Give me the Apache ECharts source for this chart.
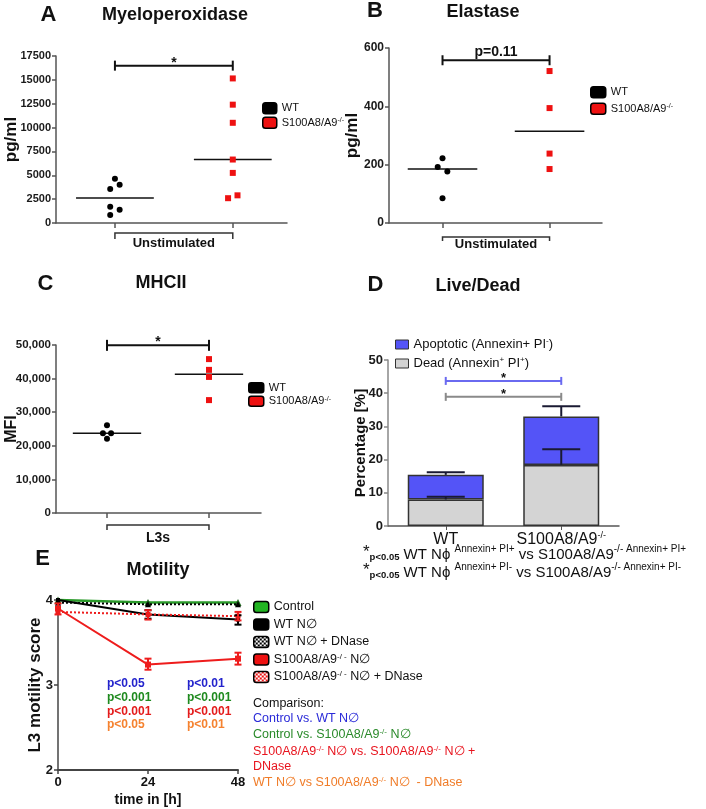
<!DOCTYPE html>
<html><head><meta charset="utf-8">
<script src="https://cdn.jsdelivr.net/npm/echarts@6/dist/echarts.min.js"></script>
<style>html,body{margin:0;padding:0;background:#fff}#c{width:706px;height:809px}</style>
</head><body><div id="c"></div>
<script>
// ---------------- DATA ----------------
const groupPos = [1, 3];               // WT, S100A8/A9-/- positions on the dot-plot axes
// A: Myeloperoxidase (pg/ml)
const mpoWTx = [1.0, 1.08, 0.92, 0.92, 1.08, 0.92];
const mpoWT  = [4650, 4000, 3550, 1700, 1400, 850];
const mpoKOx = [3.0, 3.0, 3.0, 3.0, 3.0, 2.92, 3.08];
const mpoKO  = [15150, 12400, 10500, 6650, 5250, 2600, 2900];
const mpoMedian = [2625, 6650];
// B: Elastase (pg/ml)
const elaWTx = [1.0, 0.91, 1.09, 1.0];
const elaWT  = [222, 192, 177, 85];
const elaKOx = [3.0, 3.0, 3.0, 3.0];
const elaKO  = [521, 394, 238, 185];
const elaMedian = [185, 315];
// C: MHCII (MFI)
const mhcWTx = [1.0, 0.92, 1.08, 1.0];
const mhcWT  = [26100, 23750, 23750, 22100];
const mhcKOx = [3.0, 3.0, 3.0, 3.0];
const mhcKO  = [45800, 42600, 40500, 33600];
const mhcMedian = [23750, 41300];
// D: Live/Dead (%)
const ldCategories = ['WT', 'S100A8/A9^(-/-)'];
const ldDead = [8.0, 18.4];
const ldApoptotic = [7.4, 14.6];
const ldDeadErrTop = [8.8, 23.1];
const ldTotalErrTop = [16.2, 36.1];
// E: Motility score
const motTime = [0, 24, 48];
const motControl = [4.0, 3.97, 3.97];
const motWT      = [4.0, 3.83, 3.77];
const motWTDnase = [3.97, 3.95, 3.95];
const motKO      = [3.90, 3.24, 3.31];
const motKODnase = [3.86, 3.83, 3.81];
const motWTErrLow  = [null, 3.78, 3.71];
const motWTErrHigh = [null, 3.88, 3.82];
const motKOErrLow  = [3.83, 3.18, 3.24];
const motKOErrHigh = [3.96, 3.31, 3.38];
const motKODnaseErrLow  = [null, 3.77, 3.76];
const motKODnaseErrHigh = [null, 3.88, 3.86];
const pCol1 = ['p<0.05', 'p<0.001', 'p<0.001', 'p<0.05'];
const pCol2 = ['p<0.01', 'p<0.001', 'p<0.001', 'p<0.01'];
const pColors = ['#2323cc', '#1f8a1f', '#e41b1b', '#f5822f'];

// ---------------- HELPERS ----------------
const FF = '"Liberation Sans", Arial, Helvetica, sans-serif';
function rich(str, t, s) {
  t = t || 't'; s = s || 's';
  return str.split(/\^\(([^)]*)\)/).map((p, i) => p === '' ? '' : (i % 2 ? '{' + s + '|' + p + '}' : '{' + t + '|' + p + '}')).join('');
}
const zip = (xs, ys) => xs.map((x, i) => [x, ys[i]]);

function groupXAxis(gi, max) {
  return { type: 'value', gridIndex: gi, min: 0, max: max,
    axisLine: { show: true, lineStyle: { color: '#555', width: 1.5 } },
    axisTick: { show: true, customValues: groupPos, length: 5, lineStyle: { color: '#555', width: 1.5 } },
    axisLabel: { show: false }, splitLine: { show: false } };
}
function valYAxis(gi, min, max, interval, name, nameGap, nameSize, labelSize, fmt, axisColor) {
  return { type: 'value', gridIndex: gi, min: min, max: max, interval: interval,
    name: name, nameLocation: 'middle', nameGap: nameGap, nameMoveOverlap: false,
    nameTextStyle: { fontSize: nameSize, fontWeight: 'bold', color: '#111', fontFamily: FF },
    axisLine: { show: true, lineStyle: { color: axisColor || '#555', width: 1.5 } },
    axisTick: { show: true, length: 4, lineStyle: { color: axisColor || '#555', width: 1.5 } },
    axisLabel: { fontSize: labelSize, fontWeight: 'bold', color: '#1a1a1a', margin: 5, fontFamily: FF, formatter: fmt || (v => String(v)) },
    splitLine: { show: false } };
}
function medianSeries(gi, medians, halfW) {
  return { type: 'custom', xAxisIndex: gi, yAxisIndex: gi, silent: true, z: 3,
    data: zip(groupPos, medians),
    renderItem: function (p, api) {
      const c = api.value(0), m = api.value(1);
      const a = api.coord([c - halfW, m]), b = api.coord([c + halfW, m]);
      return { type: 'line', shape: { x1: a[0], y1: a[1], x2: b[0], y2: b[1] }, style: { stroke: '#111', lineWidth: 1.5 } };
    } };
}
function sigBracket(gi, x1, x2, y, label, color, tick, font, labelDy) {
  return { type: 'custom', xAxisIndex: gi, yAxisIndex: gi, silent: true, clip: false, z: 6,
    encode: { x: [0, 1], y: 2 }, data: [[x1, x2, y]],
    renderItem: function (p, api) {
      const a = api.coord([api.value(0), api.value(2)]);
      const b = api.coord([api.value(1), api.value(2)]);
      return { type: 'group', children: [
        { type: 'line', shape: { x1: a[0], y1: a[1], x2: b[0], y2: b[1] }, style: { stroke: color, lineWidth: 2 } },
        { type: 'line', shape: { x1: a[0], y1: a[1] - tick, x2: a[0], y2: a[1] + tick }, style: { stroke: color, lineWidth: 2 } },
        { type: 'line', shape: { x1: b[0], y1: b[1] - tick, x2: b[0], y2: b[1] + tick }, style: { stroke: color, lineWidth: 2 } },
        { type: 'text', x: (a[0] + b[0]) / 2, y: a[1] + labelDy,
          style: { text: label, font: font, fill: '#111', align: 'center', verticalAlign: 'middle', textAlign: 'center', textVerticalAlign: 'middle' } }
      ] };
    } };
}
function axisBracket(gi, x1, x2, label, off, tick, textOff, font) {
  return { type: 'custom', xAxisIndex: gi, yAxisIndex: gi, silent: true, clip: false, z: 6,
    encode: { x: [0, 1], y: 2 }, data: [[x1, x2, 0]],
    renderItem: function (p, api) {
      const a = api.coord([api.value(0), 0]);
      const b = api.coord([api.value(1), 0]);
      const y0 = a[1] + off;
      return { type: 'group', children: [
        { type: 'polyline', shape: { points: [[a[0], y0 + tick], [a[0], y0], [b[0], y0], [b[0], y0 + tick]] }, style: { stroke: '#333', lineWidth: 1.5, fill: null } },
        { type: 'text', x: (a[0] + b[0]) / 2, y: a[1] + textOff,
          style: { text: label, font: font, fill: '#111', align: 'center', verticalAlign: 'middle', textAlign: 'center', textVerticalAlign: 'middle' } }
      ] };
    } };
}
function errSeries(gi, xs, lows, highs, color, capHalf, bothCaps, lw) {
  const data = [];
  xs.forEach((x, i) => { if (lows[i] != null) data.push([x, lows[i], highs[i]]); });
  return { type: 'custom', xAxisIndex: gi, yAxisIndex: gi, silent: true, clip: false, z: 8,
    encode: { x: 0, y: [1, 2] }, data: data,
    renderItem: function (p, api) {
      const lo = api.coord([api.value(0), api.value(1)]);
      const hi = api.coord([api.value(0), api.value(2)]);
      const st = { stroke: color, lineWidth: lw };
      const ch = [
        { type: 'line', shape: { x1: lo[0], y1: lo[1], x2: hi[0], y2: hi[1] }, style: st },
        { type: 'line', shape: { x1: hi[0] - capHalf, y1: hi[1], x2: hi[0] + capHalf, y2: hi[1] }, style: st }
      ];
      if (bothCaps) ch.push({ type: 'line', shape: { x1: lo[0] - capHalf, y1: lo[1], x2: lo[0] + capHalf, y2: lo[1] }, style: st });
      return { type: 'group', children: ch };
    } };
}
function checker(c1, c2) {
  const cv = document.createElement('canvas'); cv.width = 4; cv.height = 4;
  const g = cv.getContext('2d');
  g.fillStyle = c2; g.fillRect(0, 0, 4, 4);
  g.fillStyle = c1; g.fillRect(0, 0, 2, 2); g.fillRect(2, 2, 2, 2);
  return { image: cv, repeat: 'repeat' };
}
function txt(x, y, text, font, fill, align, richStyles) {
  return { type: 'text', x: x, y: y, silent: true,
    style: { text: text, font: font, fill: fill || '#111', align: align || 'center', verticalAlign: 'middle',
             textAlign: align || 'center', textVerticalAlign: 'middle', rich: richStyles } };
}

// ---------------- OPTION ----------------
const KO = 'S100A8/A9^(-/-)';
const dotLegendText = (size, supSize, lh) => ({ fontSize: size, lineHeight: lh, color: '#111', fontFamily: FF,
  rich: { t: { fontSize: size, lineHeight: lh, fontFamily: FF, color: '#111' },
          s: { fontSize: supSize, lineHeight: supSize + 1, verticalAlign: 'top', fontFamily: FF, color: '#111' } } });
function dotLegend(left, top, w, h, gap, size, lh) {
  return { left: left, top: top, padding: 0, orient: 'vertical', itemWidth: w, itemHeight: h, itemGap: gap, selectedMode: false,
    icon: 'roundRect', data: ['WT', KO], itemStyle: { borderColor: '#000', borderWidth: 1.5, opacity: 1 },
    textStyle: dotLegendText(size, 7, lh), formatter: n => rich(n) };
}
const WT_STYLE = { color: '#000', opacity: 1 };
const KO_STYLE = { color: '#ee1111', opacity: 1 };

const eNames = ['Control', 'WT N∅', 'WT N∅ + DNase', 'S100A8/A9^(-/ -) N∅', 'S100A8/A9^(-/ -) N∅ + DNase'];

const option = {
  animation: false,
  textStyle: { fontFamily: FF },
  grid: [
    { left: 56, top: 56, width: 231, height: 167, outerBoundsMode: 'none' },
    { left: 389, top: 48, width: 213, height: 175, outerBoundsMode: 'none' },
    { left: 56, top: 345, width: 205, height: 168, outerBoundsMode: 'none' },
    { left: 388, top: 360, width: 231, height: 166, outerBoundsMode: 'none' },
    { left: 58, top: 600, width: 180, height: 170, outerBoundsMode: 'none' }
  ],
  xAxis: [
    groupXAxis(0, 3.92),
    groupXAxis(1, 3.98),
    groupXAxis(2, 4.02),
    { type: 'category', gridIndex: 3, data: ldCategories,
      axisLine: { show: true, lineStyle: { color: '#555', width: 1.5 } },
      axisTick: { show: true, alignWithLabel: true, length: 4, lineStyle: { color: '#555' } },
      axisLabel: { margin: 5, interval: 0, hideOverlap: false, formatter: v => rich(v), fontSize: 16, color: '#111',
        rich: { t: { fontSize: 16, lineHeight: 18, color: '#111', fontFamily: FF },
                s: { fontSize: 9, lineHeight: 9, verticalAlign: 'top', color: '#111', fontFamily: FF } } } },
    { type: 'value', gridIndex: 4, min: 0, max: 48, interval: 24,
      name: 'time in [h]', nameLocation: 'middle', nameGap: 23, nameMoveOverlap: false,
      nameTextStyle: { fontSize: 14, fontWeight: 'bold', color: '#111', fontFamily: FF },
      axisLine: { show: true, lineStyle: { color: '#444', width: 2 } },
      axisTick: { show: true, length: 4, lineStyle: { color: '#444', width: 1.5 } },
      axisLabel: { fontSize: 13, fontWeight: 'bold', color: '#111', margin: 6 },
      splitLine: { show: false } }
  ],
  yAxis: [
    valYAxis(0, 0, 17500, 2500, 'pg/ml', 36, 17, 11),
    valYAxis(1, 0, 600, 200, 'pg/ml', 28, 17, 12),
    valYAxis(2, 0, 50000, 10000, 'MFI', 36, 16, 11.5, v => v.toLocaleString('en-US')),
    valYAxis(3, 0, 50, 10, 'Percentage [%]', 19.5, 15, 13, null, '#888'),
    valYAxis(4, 2, 4, 1, 'L3 motility score', 14, 17, 13, null, '#444')
  ],
  legend: [
    dotLegend(262, 102, 14, 11, 2, 11, 12),
    dotLegend(590, 86, 15, 11, 4, 11, 12),
    dotLegend(248, 382, 15, 10, 2, 11, 11),
    { left: 395, top: 337, padding: 0, orient: 'vertical', itemWidth: 13, itemHeight: 9, itemGap: 4, selectedMode: false,
      icon: 'rect', data: ['Apoptotic', 'Dead'], itemStyle: { borderColor: '#333', borderWidth: 1 },
      formatter: n => n === 'Apoptotic' ? rich('Apoptotic (Annexin+ PI^(-))') : rich('Dead (Annexin^(+) PI^(+))'),
      textStyle: { fontSize: 13, lineHeight: 15, color: '#111', fontFamily: FF,
        rich: { t: { fontSize: 13, lineHeight: 15, color: '#111', fontFamily: FF },
                s: { fontSize: 8, lineHeight: 8, verticalAlign: 'top', color: '#111', fontFamily: FF } } } },
    { left: 253, top: 600, padding: 0, orient: 'vertical', itemWidth: 15, itemHeight: 11, itemGap: 3.5, selectedMode: false,
      icon: 'roundRect',
      data: [
        { name: eNames[0], itemStyle: { color: '#22b422', borderColor: '#000', borderWidth: 1.5 } },
        { name: eNames[1], itemStyle: { color: '#000', borderColor: '#000', borderWidth: 1.5 } },
        { name: eNames[2], itemStyle: { color: checker('#000', '#fff'), borderColor: '#000', borderWidth: 1.5 } },
        { name: eNames[3], itemStyle: { color: '#ee1111', borderColor: '#000', borderWidth: 1.5 } },
        { name: eNames[4], itemStyle: { color: checker('#ee1111', '#fff'), borderColor: '#000', borderWidth: 1.5 } }
      ],
      formatter: n => rich(n),
      textStyle: { fontSize: 12.5, lineHeight: 14, color: '#111', fontFamily: FF,
        rich: { t: { fontSize: 12.5, lineHeight: 14, color: '#111', fontFamily: FF },
                s: { fontSize: 8, lineHeight: 8, verticalAlign: 'top', color: '#111', fontFamily: FF } } } }
  ],
  series: [
    // A
    { type: 'scatter', name: 'WT', xAxisIndex: 0, yAxisIndex: 0, symbol: 'circle', symbolSize: 6, itemStyle: WT_STYLE, data: zip(mpoWTx, mpoWT), z: 4 },
    { type: 'scatter', name: KO, xAxisIndex: 0, yAxisIndex: 0, symbol: 'rect', symbolSize: 6, itemStyle: KO_STYLE, data: zip(mpoKOx, mpoKO), z: 4 },
    medianSeries(0, mpoMedian, 0.66),
    sigBracket(0, groupPos[0], groupPos[1], 16490, '*', '#111', 5, 'bold 14px ' + FF, -2),
    axisBracket(0, groupPos[0], groupPos[1], 'Unstimulated', 10, 6, 20, 'bold 13px ' + FF),
    // B
    { type: 'scatter', name: 'WT', xAxisIndex: 1, yAxisIndex: 1, symbol: 'circle', symbolSize: 6, itemStyle: WT_STYLE, data: zip(elaWTx, elaWT), z: 4 },
    { type: 'scatter', name: KO, xAxisIndex: 1, yAxisIndex: 1, symbol: 'rect', symbolSize: 6, itemStyle: KO_STYLE, data: zip(elaKOx, elaKO), z: 4 },
    medianSeries(1, elaMedian, 0.65),
    sigBracket(1, groupPos[0], groupPos[1], 558, 'p=0.11', '#111', 5, 'bold 14px ' + FF, -8.5),
    axisBracket(1, groupPos[0], groupPos[1], 'Unstimulated', 14, 4, 21.5, 'bold 13px ' + FF),
    // C
    { type: 'scatter', name: 'WT', xAxisIndex: 2, yAxisIndex: 2, symbol: 'circle', symbolSize: 6, itemStyle: WT_STYLE, data: zip(mhcWTx, mhcWT), z: 4 },
    { type: 'scatter', name: KO, xAxisIndex: 2, yAxisIndex: 2, symbol: 'rect', symbolSize: 6, itemStyle: KO_STYLE, data: zip(mhcKOx, mhcKO), z: 4 },
    medianSeries(2, mhcMedian, 0.67),
    sigBracket(2, groupPos[0], groupPos[1], 49900, '*', '#111', 5.5, 'bold 14px ' + FF, -3.5),
    axisBracket(2, groupPos[0], groupPos[1], 'L3s', 12, 5, 25, 'bold 14px ' + FF),
    // D
    { type: 'bar', name: 'Dead', xAxisIndex: 3, yAxisIndex: 3, stack: 'ld', barWidth: 76, data: ldDead,
      itemStyle: { color: '#d4d4d4', borderColor: '#333', borderWidth: 1.5 } },
    { type: 'bar', name: 'Apoptotic', xAxisIndex: 3, yAxisIndex: 3, stack: 'ld', barWidth: 76, data: ldApoptotic,
      itemStyle: { color: '#5454f7', borderColor: '#333', borderWidth: 1.5 } },
    errSeries(3, [0, 1], ldDead, ldDeadErrTop, '#1a1a33', 19, false, 2),
    errSeries(3, [0, 1], ldDead.map((d, i) => d + ldApoptotic[i]), ldTotalErrTop, '#1a1a33', 19, false, 2),
    sigBracket(3, 0, 1, 43.7, '*', '#6a6af0', 4, 'bold 13px ' + FF, -2),
    sigBracket(3, 0, 1, 38.9, '*', '#8a8a8a', 4, 'bold 13px ' + FF, -2),
    // E
    { type: 'line', name: eNames[0], xAxisIndex: 4, yAxisIndex: 4, data: zip(motTime, motControl), clip: false,
      symbol: 'triangle', symbolSize: 7, lineStyle: { color: '#2a9a2a', width: 2.5 }, itemStyle: { color: '#1d6a1d' }, z: 3 },
    { type: 'line', name: eNames[1], xAxisIndex: 4, yAxisIndex: 4, data: zip(motTime, motWT), clip: false,
      symbol: 'rect', symbolSize: 4, lineStyle: { color: '#000', width: 2 }, itemStyle: { color: '#000' }, z: 4 },
    { type: 'line', name: eNames[2], xAxisIndex: 4, yAxisIndex: 4, data: zip(motTime, motWTDnase), clip: false,
      symbol: 'triangle', symbolSize: 6, lineStyle: { color: '#000', width: 2, type: 'dotted' }, itemStyle: { color: '#000' }, z: 5 },
    { type: 'line', name: eNames[3], xAxisIndex: 4, yAxisIndex: 4, data: zip(motTime, motKO), clip: false,
      symbol: 'rect', symbolSize: 6, lineStyle: { color: '#ee1c1c', width: 2 }, itemStyle: { color: '#ee1c1c' }, z: 4 },
    { type: 'line', name: eNames[4], xAxisIndex: 4, yAxisIndex: 4, data: zip(motTime, motKODnase), clip: false,
      symbol: 'rect', symbolSize: 5, lineStyle: { color: '#ee1c1c', width: 2, type: 'dotted' }, itemStyle: { color: '#ee1c1c' }, z: 4 },
    errSeries(4, motTime, motWTErrLow, motWTErrHigh, '#000', 3.5, true, 2),
    errSeries(4, motTime, motKOErrLow, motKOErrHigh, '#ee1c1c', 3.5, true, 2),
    errSeries(4, motTime, motKODnaseErrLow, motKODnaseErrHigh, '#ee1c1c', 3.5, true, 2)
  ],
  graphic: { elements: [] }
};

// Titles and annotations
const G = option.graphic.elements;
const L = 'bold 22px ' + FF, T = 'bold 18px ' + FF;
G.push(txt(48.5, 15, 'A', L), txt(175, 15, 'Myeloperoxidase', T));
G.push(txt(375, 11, 'B', L), txt(483, 12, 'Elastase', T));
G.push(txt(45.5, 283.5, 'C', L), txt(161, 283, 'MHCII', T));
G.push(txt(375.5, 284.5, 'D', L), txt(478, 286, 'Live/Dead', T));
G.push(txt(42.5, 559, 'E', L), txt(158, 570, 'Motility', T));

// D footnotes
const footRich = (col) => ({
  st: { fontSize: 17, lineHeight: 18, verticalAlign: 'top', color: col, fontFamily: FF },
  sp: { fontSize: 9.5, fontWeight: 'bold', lineHeight: 12, verticalAlign: 'bottom', color: col, fontFamily: FF },
  m: { fontSize: 15, lineHeight: 18, verticalAlign: 'bottom', color: '#111', fontFamily: FF },
  s: { fontSize: 10, lineHeight: 10, verticalAlign: 'top', color: '#111', fontFamily: FF }
});
G.push(txt(363, 553, '{st|*}{sp|p<0.05}' + rich(' WT Nϕ ^(Annexin+ PI+) vs S100A8/A9^(-/- Annexin+ PI+)', 'm', 's'), '15px ' + FF, '#111', 'left', footRich('#8a8a8a')));
G.push(txt(363, 571, '{st|*}{sp|p<0.05}' + rich(' WT Nϕ ^(Annexin+ PI-) vs S100A8/A9^(-/- Annexin+ PI-)', 'm', 's'), '15px ' + FF, '#111', 'left', footRich('#2323cc')));

// E p-values
pCol1.forEach((p, i) => G.push(txt(107, 684 + i * 13.7, p, 'bold 12px ' + FF, pColors[i], 'left')));
pCol2.forEach((p, i) => G.push(txt(187, 684 + i * 13.7, p, 'bold 12px ' + FF, pColors[i], 'left')));

// E comparison text
const cmpRich = (col) => ({ t: { fontSize: 12.5, lineHeight: 14, color: col, fontFamily: FF },
                            s: { fontSize: 8, lineHeight: 8, verticalAlign: 'top', color: col, fontFamily: FF } });
const cmpLines = [
  ['Comparison:', '#111', 704],
  ['Control vs. WT N∅', '#2a2ad8', 718.5],
  ['Control vs. S100A8/A9^(-/-) N∅', '#2a8a2a', 735],
  ['S100A8/A9^(-/-) N∅ vs. S100A8/A9^(-/-) N∅ +', '#e8141e', 752],
  ['DNase', '#e8141e', 767],
  ['WT N∅ vs S100A8/A9^(-/-) N∅  - DNase', '#f07c28', 783]
];
cmpLines.forEach(l => G.push(txt(253, l[2], rich(l[0]), '12.5px ' + FF, l[1], 'left', cmpRich(l[1]))));

const chart = echarts.init(document.getElementById('c'), null, { renderer: 'canvas' });
chart.setOption(option);
</script>
</body></html>
